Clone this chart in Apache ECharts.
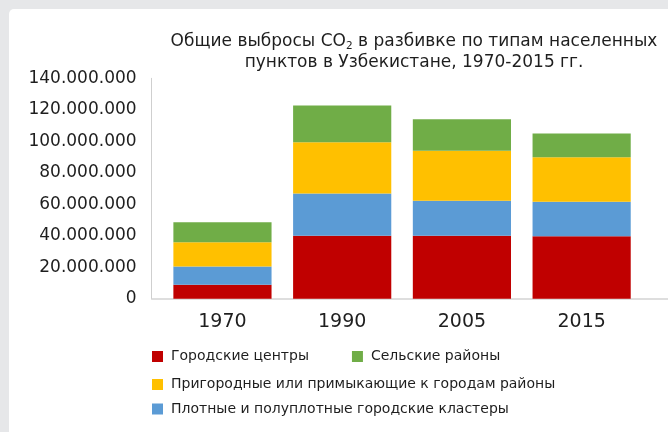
<!DOCTYPE html>
<html>
<head>
<meta charset="utf-8">
<script src="https://cdn.jsdelivr.net/npm/echarts@6/dist/echarts.min.js"></script>
<style>
  html, body { margin: 0; padding: 0; background: #e6e7e9; overflow: hidden; }
  #panel { position: fixed; left: 9px; top: 9px; width: 760px; height: 520px; background: #ffffff; border-top-left-radius: 5px; }
  #chart { position: fixed; left: 0; top: 0; width: 668px; height: 432px; }
</style>
</head>
<body>
<div id="panel"></div>
<div id="chart"></div>
<script>
// Years on the category axis
const years = ['1970', '1990', '2005', '2015'];

// CO2 emissions by settlement type (tonnes)
const urbanCentres   = [8900000, 40000000, 40000000, 39600000];
const denseClusters  = [11500000, 26900000, 22200000, 22000000];
const suburban       = [15500000, 32500000, 31700000, 28300000];
const rural          = [12700000, 23300000, 20100000, 15000000];

// Y axis range
const yMin = 0, yMax = 140000000, yStep = 20000000;

const names = {
  urban: 'Городские центры',
  dense: 'Плотные и полуплотные городские кластеры',
  suburb: 'Пригородные или примыкающие к городам районы',
  rural: 'Сельские районы'
};
const colors = { urban: '#c00000', dense: '#5b9bd5', suburb: '#ffc000', rural: '#70ad47' };

const FONT = 'DejaVu Sans';
const TEXT = '#1e1e1e';

function fmt(v) {
  return String(v).replace(/\B(?=(\d{3})+(?!\d))/g, '.');
}

function barSeries(name, data, color) {
  return {
    name: name, type: 'bar', stack: 'total', data: data,
    xAxisIndex: 0, yAxisIndex: 0,
    barCategoryGap: '18%',
    itemStyle: { color: color },
    emphasis: { disabled: true }
  };
}

const legendText = { fontFamily: FONT, fontSize: 14, color: TEXT, lineHeight: 16, padding: [0, 0, 0, 3] };
function legend(top, data) {
  return {
    left: 152, top: top, padding: 0, itemGap: 43,
    itemWidth: 11, itemHeight: 11, icon: 'rect',
    textStyle: legendText, data: data, selectedMode: false
  };
}

const chart = echarts.init(document.getElementById('chart'), null, { renderer: 'canvas' });
chart.setOption({
  backgroundColor: 'transparent',
  animation: false,
  title: {
    text: 'Общие выбросы CO{s|2} в разбивке по типам населенных\nпунктов в Узбекистане, 1970-2015 гг.',
    left: 409, top: 26, textAlign: 'center',
    textStyle: {
      fontFamily: FONT, fontSize: 17, fontWeight: 'normal', color: TEXT, lineHeight: 21,
      rich: { s: { fontFamily: FONT, fontSize: 10.5, color: TEXT, verticalAlign: 'bottom', lineHeight: 14 } }
    }
  },
  legend: [
    legend(348.5, [names.urban, names.rural]),
    legend(376.5, [names.suburb]),
    legend(401, [names.dense])
  ],
  grid: [
    { left: 162.6, right: 26.5, top: 78.3, bottom: 133.3 },
    { left: 151.7, right: 0, top: 78.3, bottom: 133.3 }
  ],
  xAxis: [
    {
      type: 'category', data: years, gridIndex: 0,
      axisLine: { show: false }, axisTick: { show: false },
      axisLabel: { fontFamily: FONT, fontSize: 19, color: TEXT, margin: 14 }
    },
    {
      type: 'value', gridIndex: 1, min: 0, max: 1,
      axisLine: { show: true, onZero: false, lineStyle: { color: '#d4d4d4', width: 1.5 } },
      axisTick: { show: false }, axisLabel: { show: false }, splitLine: { show: false }
    }
  ],
  yAxis: [
    {
      type: 'value', gridIndex: 0, min: yMin, max: yMax, interval: yStep, offset: 11,
      axisLine: { show: true, lineStyle: { color: '#cfcfcf', width: 1 } },
      axisTick: { show: false }, splitLine: { show: false },
      axisLabel: { fontFamily: FONT, fontSize: 17, color: TEXT, margin: 15, formatter: fmt }
    },
    { type: 'value', gridIndex: 1, min: 0, max: 1, show: false }
  ],
  series: [
    barSeries(names.urban, urbanCentres, colors.urban),
    barSeries(names.dense, denseClusters, colors.dense),
    barSeries(names.suburb, suburban, colors.suburb),
    barSeries(names.rural, rural, colors.rural)
  ]
});
</script>
</body>
</html>
